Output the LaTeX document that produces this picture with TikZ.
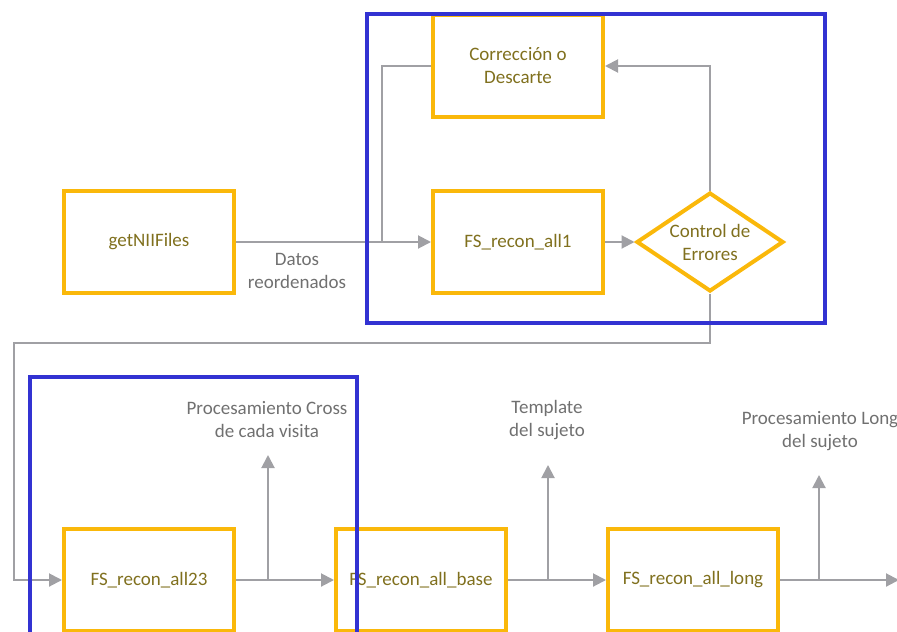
\documentclass[tikz,border=0pt]{standalone}
\usepackage{fontspec}
\setmainfont{Carlito}
\usetikzlibrary{arrows.meta,shapes.geometric}

\definecolor{boxorange}{RGB}{250,184,10}
\definecolor{boxtext}{RGB}{128,112,30}
\definecolor{wiregrey}{RGB}{160,160,164}
\definecolor{labgrey}{RGB}{112,112,112}
\definecolor{groupblue}{RGB}{50,50,210}

\begin{document}
\begin{tikzpicture}[
  x=0.5pt,
  y=-0.5pt,
  proc/.style={draw=boxorange,line width=2pt,minimum width=85pt,minimum height=51pt,
    inner sep=0pt,align=center,text=boxtext,font=\fontsize{9.5}{11.5}\selectfont},
  decision/.style={diamond,draw=boxorange,line width=2pt,minimum width=73.5pt,
    minimum height=49.5pt,inner sep=0pt},
  txt/.style={align=center,text=boxtext,font=\fontsize{9.5}{11.5}\selectfont},
  lab/.style={align=center,text=labgrey,font=\fontsize{9.5}{11.5}\selectfont},
  wire/.style={draw=wiregrey,line width=1pt},
  flow/.style={wire,-{Triangle[length=6.5pt,width=6.5pt]}},
  group/.style={draw=groupblue,line width=1.6pt}
]
\useasboundingbox (0,0) rectangle (897,631);
\clip (0,0) rectangle (897,631);

% top part
\node[proc] (nii) at (149,242) {getNIIFiles};
\node[proc] (corr) at (518,66) {Corrección o\\Descarte};
\node[proc] (fs1) at (518,242) {FS\_recon\_all1};
\node[decision] (ctl) at (710,242) {};
\node[txt] (ctltxt) at (ctl) {Control de\\Errores};
\node[lab] (datos) at (297,271) {Datos\\reordenados};

\coordinate (merge) at (382,242);
\draw[flow] (nii) -- (fs1);
\draw[wire] (corr.west) -| (merge);
\draw[flow] (fs1) -- (ctl);
\draw[flow] (ctl.north) |- (corr.east);

% bottom part
\node[proc] (fs23) at (149,580) {FS\_recon\_all23};
\node[proc] (base) at (421,580) {FS\_recon\_all\_base};
\node[proc] (long) at (693,580) {FS\_recon\_all\_long};

\node[lab] (cross) at (267,420) {Procesamiento Cross\\de cada visita};
\node[lab] (tmpl) at (547,420) {Template\\del sujeto};
\node[lab] (longlab) at (820,431) {Procesamiento Long\\del sujeto};

\coordinate (elbowR) at (710,343);
\coordinate (elbowL) at (14,343);
\draw[flow] (ctl.south) -- (elbowR) -- (elbowL) |- (fs23.west);

\coordinate (br1) at (268,580);
\coordinate (up1) at (268,455);
\coordinate (br2) at (548,580);
\coordinate (up2) at (548,465);
\coordinate (br3) at (819,580);
\coordinate (up3) at (819,475);
\coordinate (out) at (899,580);

\draw[flow] (fs23) -- (base);
\draw[flow] (br1) -- (up1);
\draw[flow] (base) -- (long);
\draw[flow] (br2) -- (up2);
\draw[flow] (long.east) -- (out);
\draw[flow] (br3) -- (up3);

% groups
\draw[group] (367,14) rectangle (825,323);
\draw[group] (30,377) rectangle (357,650);
\end{tikzpicture}
\end{document}
